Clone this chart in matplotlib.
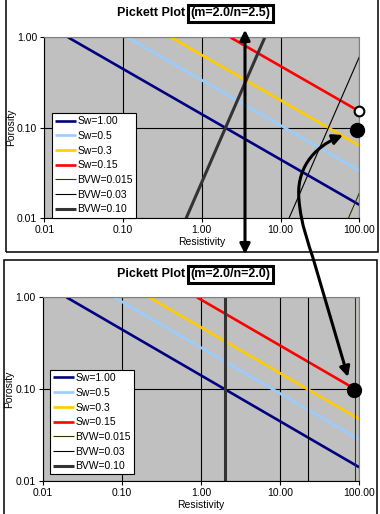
import matplotlib
matplotlib.use("Agg")
import matplotlib.pyplot as plt
from matplotlib.patches import FancyArrowPatch, Rectangle
from matplotlib.path import Path
from matplotlib.ticker import FixedLocator, FixedFormatter, NullLocator

plt.rcParams["font.family"] = ["Liberation Sans", "DejaVu Sans"]

W, H = 380, 514

xticks = [0.01, 0.1, 1, 10, 100]
xtick_labels = ["0.01", "0.10", "1.00", "10.00", "100.00"]
yticks = [0.01, 0.1, 1]
ytick_labels = ["0.01", "0.10", "1.00"]

series_labels = ["Sw=1.00", "Sw=0.5", "Sw=0.3", "Sw=0.15", "BVW=0.015", "BVW=0.03", "BVW=0.10"]
series_colors = ["#000080", "#99CCFF", "#FFCC00", "#FF0000", "#333300", "#000000", "#333333"]
series_widths = [1.9, 1.9, 1.9, 1.9, 0.8, 0.8, 2.2]

# upper chart, m=2.0 n=2.5 (line ends)
top_rt = [[0.02, 100], [0.113, 100], [0.406, 100], [2.3, 100], [72.6, 100], [12.8, 100], [0.632, 6.32]]
top_phi = [[1.0, 0.0141], [1.0, 0.0336], [1.0, 0.0637], [1.0, 0.152], [0.01, 0.019], [0.01, 0.607], [0.01, 1.0]]

# lower chart, m=2.0 n=2.0
bot_rt = [[0.02, 100], [0.08, 100], [0.222, 100], [0.889, 100], [88.9, 88.9], [22.2, 22.2], [2.0, 2.0]]
bot_phi = [[1.0, 0.0141], [1.0, 0.0283], [1.0, 0.0471], [1.0, 0.0943], [0.01, 1.0], [0.01, 1.0], [0.01, 1.0]]

top_open_pt = (100, 0.155)
top_solid_pt = (94, 0.095)
bot_solid_pt = (86, 0.098)


def fx(x):
    return x / W


def fy(y):
    return 1 - y / H


def pickett(ax, rt, phi, legend_xy):
    ax.set_facecolor("#C0C0C0")
    for r, p, lab, c, w in zip(rt, phi, series_labels, series_colors, series_widths):
        ax.plot(r, p, color=c, lw=w, label=lab, solid_capstyle="butt")
    ax.set_xscale("log")
    ax.set_yscale("log")
    ax.set_xlim(0.01, 100)
    ax.set_ylim(0.01, 1)
    ax.xaxis.set_major_locator(FixedLocator(xticks))
    ax.xaxis.set_major_formatter(FixedFormatter(xtick_labels))
    ax.yaxis.set_major_locator(FixedLocator(yticks))
    ax.yaxis.set_major_formatter(FixedFormatter(ytick_labels))
    ax.xaxis.set_minor_locator(NullLocator())
    ax.yaxis.set_minor_locator(NullLocator())
    ax.grid(True, which="major", color="black", lw=0.8)
    ax.set_axisbelow(True)
    for s in ["top", "right"]:
        ax.spines[s].set_color("#808080")
        ax.spines[s].set_linewidth(0.8)
    for s in ["left", "bottom"]:
        ax.spines[s].set_color("black")
        ax.spines[s].set_linewidth(0.8)
    ax.tick_params(direction="out", length=3, width=0.8, labelsize=7.5, pad=2)
    ax.set_xlabel("Resistivity", fontsize=7.5)
    ax.set_ylabel("Porosity", fontsize=7.5)
    ax.xaxis.set_label_coords(0.5, -0.105)
    ax.yaxis.set_label_coords(-0.09, 0.5)
    leg = ax.legend(loc="lower left", bbox_to_anchor=legend_xy, fontsize=7.5, frameon=True,
                    fancybox=False, edgecolor="black", framealpha=1, borderpad=0.3,
                    labelspacing=0.45, handlelength=2.0, handletextpad=0.15, borderaxespad=0)
    leg.get_frame().set_linewidth(0.8)


fig = plt.figure(figsize=(W / 100, H / 100), dpi=100, facecolor="white")

# panel frames
fig.patches.append(Rectangle((fx(6), fy(252)), fx(372), 0.6, transform=fig.transFigure,
                             fill=False, edgecolor="black", lw=1.1, clip_on=False))
fig.patches.append(Rectangle((fx(4), fy(530)), fx(373), (530 - 260) / H, transform=fig.transFigure,
                             fill=False, edgecolor="black", lw=1.1, clip_on=False))

ax1 = fig.add_axes([fx(44.3), fy(218.3), 315 / W, 181 / H])
pickett(ax1, top_rt, top_phi, (0.0235, 0.004))
ax1.plot(*top_open_pt, "o", ms=7, mfc="white", mec="black", mew=1.5, clip_on=False, zorder=6)
ax1.plot(*top_solid_pt, "o", ms=10, color="black", clip_on=False, zorder=6)

ax2 = fig.add_axes([fx(42.7), fy(481), 316.6 / W, 183.7 / H])
pickett(ax2, bot_rt, bot_phi, (0.023, 0.036))
ax2.plot(*bot_solid_pt, "o", ms=10, color="black", clip_on=False, zorder=6)

# titles
for ty, tag in [(13, "(m=2.0/n=2.5)"), (274, "(m=2.0/n=2.0)")]:
    fig.text(fx(185), fy(ty), "Pickett Plot", fontsize=9, fontweight="bold", ha="right", va="center")
    fig.text(fx(190), fy(ty), tag, fontsize=9, fontweight="bold", ha="left", va="center",
             bbox=dict(boxstyle="square,pad=0.2", facecolor="white", edgecolor="black", lw=2.2))

# straight double arrow between the charts
fig.patches.append(FancyArrowPatch((fx(245), fy(27)), (fx(245), fy(257)), transform=fig.transFigure,
                                   arrowstyle="<|-|>,head_length=0.6,head_width=0.3", mutation_scale=10,
                                   color="black", lw=2.2, zorder=10))

# curved arrow from upper dot to lower dot
verts = [(343, 135), (312, 148), (296, 170), (299, 200), (301, 225), (309, 245), (313, 258), (348, 377)]
codes = [Path.MOVETO] + [Path.CURVE4] * 6 + [Path.LINETO]
curve = Path([(fx(x), fy(y)) for x, y in verts], codes)
fig.patches.append(FancyArrowPatch(path=curve, transform=fig.transFigure,
                                   arrowstyle="<|-|>,head_length=0.6,head_width=0.3", mutation_scale=10,
                                   color="black", lw=2.2, zorder=10))

fig.savefig("out.png", dpi=100, facecolor="white")
